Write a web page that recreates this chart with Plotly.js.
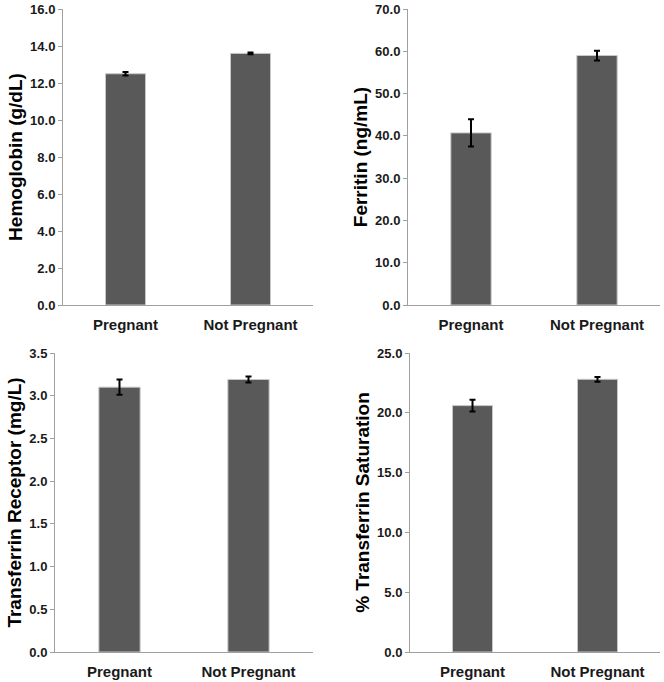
<!DOCTYPE html>
<html>
<head>
<meta charset="utf-8">
<script src="https://cdn.plot.ly/plotly-3.0.1.min.js"></script>
<style>
  html, body { margin: 0; padding: 0; background: #fff; }
  #chart { width: 664px; height: 682px; }
</style>
</head>
<body>
<div id="chart"></div>
<script>
// categories
const groups = ["Pregnant", "Not Pregnant"];

// mean values
const hemoglobin = [12.5, 13.6];
const ferritin = [40.7, 59.0];
const transferrinReceptor = [3.10, 3.19];
const transferrinSat = [20.6, 22.8];

// error bar half lengths
const hemoglobinErr = [0.1, 0.05];
const ferritinErr = [3.2, 1.15];
const transferrinReceptorErr = [0.09, 0.035];
const transferrinSatErr = [0.5, 0.2];

const yTitles = ["Hemoglobin (g/dL)", "Ferritin (ng/mL)", "Transferrin Receptor (mg/L)", "% Transferrin Saturation"];
const yMax = [16, 70, 3.5, 25];
const yStep = [2, 10, 0.5, 5];

const panels = [
  {vals: hemoglobin, err: hemoglobinErr},
  {vals: ferritin, err: ferritinErr},
  {vals: transferrinReceptor, err: transferrinReceptorErr},
  {vals: transferrinSat, err: transferrinSatErr}
];

// pixel boxes of each plot area [x0, x1, yTop, yBottom]
const W = 664, H = 682;
const boxes = [
  [63, 313, 9, 305],
  [408, 660, 9, 305],
  [55, 313, 353, 652],
  [410, 660, 353, 652]
];

const fontFam = '"Liberation Sans", Arial, sans-serif';
const axisGray = '#a0a0a0';

var data = [];
var layout = {
  width: W,
  height: H,
  margin: {l: 0, r: 0, t: 0, b: 0},
  showlegend: false,
  paper_bgcolor: '#fff',
  plot_bgcolor: '#fff',
  bargap: 0.68,
  font: {family: fontFam, color: '#1a1a1a'}
};

panels.forEach(function(p, i) {
  let n = i + 1;
  let xa = n === 1 ? 'x' : 'x' + n;
  let ya = n === 1 ? 'y' : 'y' + n;
  data.push({
    type: 'bar',
    x: groups,
    y: p.vals,
    xaxis: xa,
    yaxis: ya,
    marker: {color: '#595959', line: {color: '#c8c8c8', width: 1}},
    error_y: {type: 'data', array: p.err, visible: true, color: '#000', thickness: 2, width: 3},
    hoverinfo: 'none'
  });

  let b = boxes[i];
  layout['xaxis' + (n === 1 ? '' : n)] = {
    domain: [b[0] / W, b[1] / W],
    anchor: ya,
    showline: true,
    linecolor: axisGray,
    linewidth: 1,
    ticks: '',
    ticklabelstandoff: 6,
    showgrid: false,
    zeroline: false,
    tickfont: {size: 15, weight: 'bold', color: '#1a1a1a'},
    fixedrange: true
  };
  layout['yaxis' + (n === 1 ? '' : n)] = {
    domain: [1 - b[3] / H, 1 - b[2] / H],
    anchor: xa,
    range: [0, yMax[i]],
    dtick: yStep[i],
    tick0: 0,
    tickformat: '.1f',
    showline: true,
    linecolor: axisGray,
    linewidth: 1,
    ticks: 'outside',
    ticklen: 4,
    tickcolor: axisGray,
    showgrid: false,
    zeroline: false,
    tickfont: {size: 13, weight: 'bold', color: '#1a1a1a'},
    title: {text: yTitles[i], font: {size: 19, weight: 'bold', color: '#000'}, standoff: 2},
    fixedrange: true
  };
});

Plotly.newPlot('chart', data, layout, {displayModeBar: false, staticPlot: true});
</script>
</body>
</html>
